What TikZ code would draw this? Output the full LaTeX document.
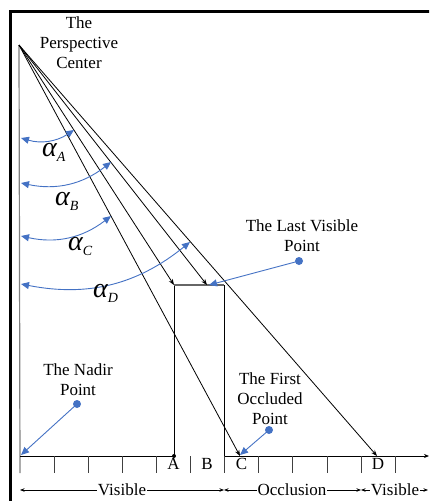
\documentclass[tikz,border=0pt]{standalone}
\usepackage{fontspec}
\setmainfont{Liberation Serif}
\newfontfamily\tnr{Liberation Serif}
\usetikzlibrary{arrows.meta}
\definecolor{myblue}{RGB}{68,114,196}
\newcommand\alab[1]{{\tnr\fontsize{28}{28}\selectfont\itshape α}\raisebox{-5pt}{\tnr\fontsize{14}{14}\selectfont\itshape #1}}
\begin{document}
\begin{tikzpicture}[x=1pt,y=-1pt,
  lbl/.style={font=\tnr\fontsize{17}{20}\selectfont, align=center, inner sep=0pt},
  ray/.style={black, line width=0.8pt, -{Stealth[length=6pt,width=4.5pt]}},
  bluearr/.style={myblue, line width=0.9pt, -{Triangle[length=8pt,width=7pt]}},
  angarr/.style={myblue, line width=0.9pt, {Triangle[length=8pt,width=7pt]}-{Triangle[length=8pt,width=7pt]}},
  bdot/.style={circle, fill=myblue, inner sep=0pt, minimum size=8pt},
  tickline/.style={black!75, line width=0.8pt},
  spanarr/.style={line width=0.7pt, {Stealth[length=4.5pt,width=3.5pt]}-{Stealth[length=4.5pt,width=3.5pt]}},
  spanlbl/.style={font=\tnr\fontsize{17}{20}\selectfont, fill=white, inner xsep=0.5pt, inner ysep=1pt},
]
\useasboundingbox (0,0) rectangle (429,501);
\clip (0,0) rectangle (429,501);
% frame
\draw[line width=3pt] (10,520) -- (10,11) -- (445,11);
% points
\coordinate (P) at (19,45);
\coordinate (N) at (20,456);
\coordinate (Nb) at (20,473);
\coordinate (Ag) at (174,456);
\coordinate (Atop) at (174,285);
\coordinate (Btop) at (207,285);
\coordinate (Ctop) at (224,285);
\coordinate (Cg) at (224,456);
\coordinate (Cb) at (224,473);
\coordinate (Cpt) at (240,456);
\coordinate (Dpt) at (377,456);
\coordinate (Gend) at (429,456);
% nadir vertical
\draw[black!50, line width=1.2pt] (P) -- (Nb);
% ground
\draw[black, line width=0.8pt] (N) -- (Ag);
\draw[black, line width=0.8pt, -{Stealth[length=5pt,width=4pt]}] (Cg) -- (Gend);
% building
\draw[black, line width=0.9pt] (Ag) -- (Atop);
\draw[black!60, line width=1.2pt] (Atop) -- (Ctop);
\draw[black, line width=0.9pt] (Ctop) -- (Cb);
\fill (Ag) circle (2pt);
% ticks
\foreach \k in {1,...,11}{
  \draw[tickline] (20+34.1*\k,456) -- (20+34.1*\k,473);
}
% letters
\node[lbl] (lA) at (173.5,464) {A};
\node[lbl] (lB) at (207,464) {B};
\node[lbl] (lC) at (241.5,464) {C};
\node[lbl] (lD) at (378,464) {D};
% rays
\draw[ray] (P) -- (Atop);
\draw[ray] (P) -- (Btop);
\draw[ray] (P) -- (Cpt);
\draw[ray] (P) -- (Dpt);
% angle arcs
\coordinate (aA1) at (21,138); \coordinate (aA2) at (74,130);
\coordinate (aB1) at (21,183); \coordinate (aB2) at (111,162);
\coordinate (aC1) at (21,236); \coordinate (aC2) at (111,216);
\coordinate (aD1) at (21,284); \coordinate (aD2) at (190,242);
\draw[angarr] (aA1) to[bend right=25] (aA2);
\draw[angarr] (aB1) to[bend right=25] (aB2);
\draw[angarr] (aC1) to[bend right=25] (aC2);
\draw[angarr] (aD1) to[bend right=25] (aD2);
\node[anchor=base west, inner sep=0pt] (alA) at (42,156) {\alab{A}};
\node[anchor=base west, inner sep=0pt] (alB) at (55,205) {\alab{B}};
\node[anchor=base west, inner sep=0pt] (alC) at (68,250) {\alab{C}};
\node[anchor=base west, inner sep=0pt] (alD) at (93,297) {\alab{D}};
% texts
\node[lbl] (pc) at (79,43) {The\\Perspective\\Center};
\node[lbl] (lv) at (302,236) {The Last Visible\\Point};
\node[lbl] (nd) at (78,380) {The Nadir\\Point};
\node[lbl] (fo) at (270,399) {The First\\Occluded\\Point};
% blue pointers
\node[bdot] (lvd) at (299,261) {};
\node[bdot] (ndd) at (77,404) {};
\node[bdot] (fod) at (269,430) {};
\coordinate (lvt) at (209,285);
\coordinate (ndt) at (21,455);
\coordinate (fot) at (240,455);
\draw[bluearr] (lvd.center) -- (lvt);
\draw[bluearr] (ndd.center) -- (ndt);
\draw[bluearr] (fod.center) -- (fot);
% bottom spans
\coordinate (s0) at (20,490);
\coordinate (s1) at (224,490);
\coordinate (s2) at (361,490);
\coordinate (s3) at (428,490);
\draw[spanarr] (s0) -- (s1);
\draw[spanarr] (s1) -- (s2);
\draw[spanarr] (s2) -- (s3);
\node[spanlbl] (v1) at (122,490) {Visible};
\node[spanlbl] (oc) at (292,490) {Occlusion};
\node[spanlbl] (v2) at (395,490) {Visible};
\end{tikzpicture}
\end{document}
